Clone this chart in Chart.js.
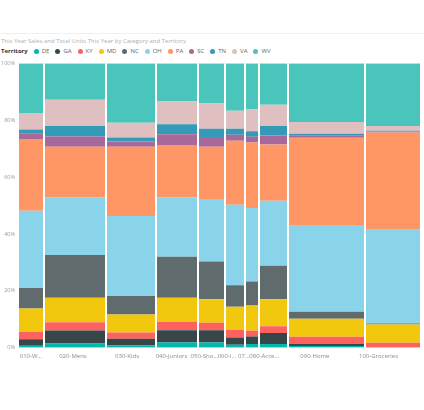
<!DOCTYPE html>
<html lang="en">
<head>
    <meta charset="UTF-8">
    <title>This Year Sales by Category and Territory</title>
    <script src="https://cdn.jsdelivr.net/npm/chart.js"></script>
    <style>
        body {
            margin: 0;
            width: 424px;
            height: 410px;
            background: #fff;
            font-family: "Open Sans", "Noto Sans", sans-serif;
            position: relative;
            overflow: hidden;
        }
        .topline {
            position: absolute;
            left: 0; top: 33px;
            width: 424px; height: 1px;
            background: #f0f0f0;
        }
        #title {
            position: absolute;
            left: 1px; top: 37px;
            font-size: 6px;
            color: #b0b0b0;
            white-space: nowrap;
        }
        #legend {
            position: absolute;
            left: 1px; top: 47px;
            font-size: 6px;
            color: #666;
            display: flex;
            align-items: center;
            white-space: nowrap;
        }
        #legend b { color: #333; margin-right: 6px; }
        #legend .item { display: flex; align-items: center; margin-right: 6px; }
        #legend .dot { width: 5px; height: 5px; border-radius: 50%; margin-right: 3px; }
        #wrap {
            position: absolute;
            left: 0; top: 56px;
            width: 424px; height: 317px;
        }
    </style>
</head>
<body>
    <div class="topline"></div>
    <div id="title">This Year Sales and Total Units This Year by Category and Territory</div>
    <div id="legend"></div>
    <div id="wrap"><canvas id="chart"></canvas></div>

    <script>
        // categories and their share of total units (column widths)
        const categories = ["010-Womens", "020-Mens", "030-Kids", "040-Juniors", "050-Shoes",
                            "060-Intimate", "070-Hosiery", "080-Accessories", "090-Home", "100-Groceries"];
        const tickLabels = ["010-W...", "020-Mens", "030-Kids", "040-Juniors", "050-Sho...",
                            "060-I...", "07...", "080-Acce...", "090-Home", "100-Groceries"];
        const unitsShare = [6.2, 15.5, 12.5, 10.5, 6.5, 5.2, 3.5, 7.1, 19.1, 13.8];

        const territories = ["DE", "GA", "KY", "MD", "NC", "OH", "PA", "SC", "TN", "VA", "WV"];
        const colors = ["#01B8AA", "#374649", "#FD625E", "#F2C80F", "#5F6B6D", "#8AD4EB",
                        "#FE9666", "#A66999", "#3599B8", "#DFBFBF", "#4AC5BB"];

        // sales share (%) per territory, one value per category
        const DE = [0.7, 1.5, 0.8, 1.9, 1.9, 1.1, 1.3, 1.3, 0.6, 0.0];
        const GA = [2.3, 4.6, 2.4, 4.3, 4.3, 2.5, 2.7, 3.9, 0.7, 0.0];
        const KY = [2.6, 2.9, 2.2, 2.9, 2.6, 2.7, 2.0, 2.4, 2.6, 1.8];
        const MD = [8.2, 8.6, 6.3, 8.5, 8.3, 8.1, 8.9, 9.5, 6.3, 6.4];
        const NC = [7.2, 15.0, 6.5, 14.4, 13.2, 7.6, 8.4, 11.7, 2.5, 0.3];
        const OH = [27.2, 20.3, 28.1, 20.9, 22.0, 28.3, 25.8, 22.9, 30.5, 33.0];
        const PA = [25.2, 17.8, 24.4, 18.4, 18.4, 22.5, 23.1, 19.8, 30.6, 34.2];
        const SC = [1.8, 3.6, 1.8, 3.8, 3.4, 2.1, 2.0, 3.1, 0.7, 0.3];
        const TN = [1.5, 3.7, 1.4, 3.5, 2.9, 2.1, 1.9, 3.4, 0.7, 0.3];
        const VA = [5.8, 9.2, 5.2, 8.0, 8.9, 6.3, 7.7, 7.4, 4.2, 1.7];
        const WV = [17.5, 12.8, 20.9, 13.4, 14.1, 16.7, 16.2, 14.6, 20.6, 22.0];
        const series = [DE, GA, KY, MD, NC, OH, PA, SC, TN, VA, WV];

        const yTicks = [0, 20, 40, 60, 80, 100];

        // legend
        const legend = document.getElementById("legend");
        legend.innerHTML = "<b>Territory</b>" + territories.map((t, i) =>
            `<span class="item"><span class="dot" style="background:${colors[i]}"></span>${t}</span>`).join("");

        // column edges along x
        const starts = [];
        let acc = 0;
        unitsShare.forEach(w => { starts.push(acc); acc += w; });
        const total = acc;

        // column totals so each column sums to 100%
        const colTotals = categories.map((c, i) => series.reduce((s, arr) => s + arr[i], 0));

        // cumulative top edge of each territory, drawn as flat steps per column
        const running = categories.map(() => 0);
        const datasets = series.map((arr, k) => {
            const pts = [];
            categories.forEach((c, i) => {
                running[i] += arr[i] / colTotals[i] * 100;
                pts.push({ x: starts[i], y: running[i] });
                pts.push({ x: starts[i] + unitsShare[i], y: running[i] });
            });
            return {
                label: territories[k],
                data: pts,
                backgroundColor: colors[k],
                borderColor: "transparent",
                borderWidth: 0,
                pointRadius: 0,
                tension: 0,
                fill: k === 0 ? "origin" : "-1"
            };
        });

        // x ticks: inner column borders (white lines) and label positions
        const xTicks = [];
        starts.forEach((s, i) => {
            if (i > 0) xTicks.push({ value: s, kind: "b" });
            xTicks.push({ value: (s + unitsShare[i] / 2) * 0.963, kind: "c", idx: i });
        });

        new Chart(document.getElementById("chart"), {
            type: "line",
            data: { datasets },
            options: {
                responsive: true,
                maintainAspectRatio: false,
                animation: false,
                layout: { padding: { top: 1, right: 4, bottom: 8, left: 0 } },
                plugins: { legend: { display: false }, tooltip: { enabled: false } },
                scales: {
                    x: {
                        type: "linear",
                        min: 0,
                        max: total,
                        afterBuildTicks: scale => {
                            scale.ticks = xTicks.map(t => Object.assign({}, t));
                        },
                        grid: {
                            z: 1,
                            drawTicks: false,
                            lineWidth: 2,
                            color: ctx => (ctx.tick && ctx.tick.kind === "b") ? "#ffffff" : "rgba(0,0,0,0)"
                        },
                        border: { display: false },
                        ticks: {
                            autoSkip: false,
                            maxRotation: 0,
                            padding: 5,
                            color: "#8a8a8a",
                            font: { size: 6, family: "Open Sans" },
                            callback: (v, i, ticks) => ticks[i].kind === "c" ? tickLabels[ticks[i].idx] : ""
                        }
                    },
                    y: {
                        min: 0,
                        max: 100,
                        afterBuildTicks: scale => {
                            scale.ticks = yTicks.map(v => ({ value: v }));
                        },
                        afterFit: scale => { scale.width = 19; },
                        grid: { display: false, drawTicks: false },
                        border: { display: false },
                        ticks: {
                            padding: 4,
                            color: "#9a9a9a",
                            font: { size: 5.5, family: "Open Sans" },
                            callback: v => v + "%"
                        }
                    }
                }
            }
        });
    </script>
</body>
</html>
